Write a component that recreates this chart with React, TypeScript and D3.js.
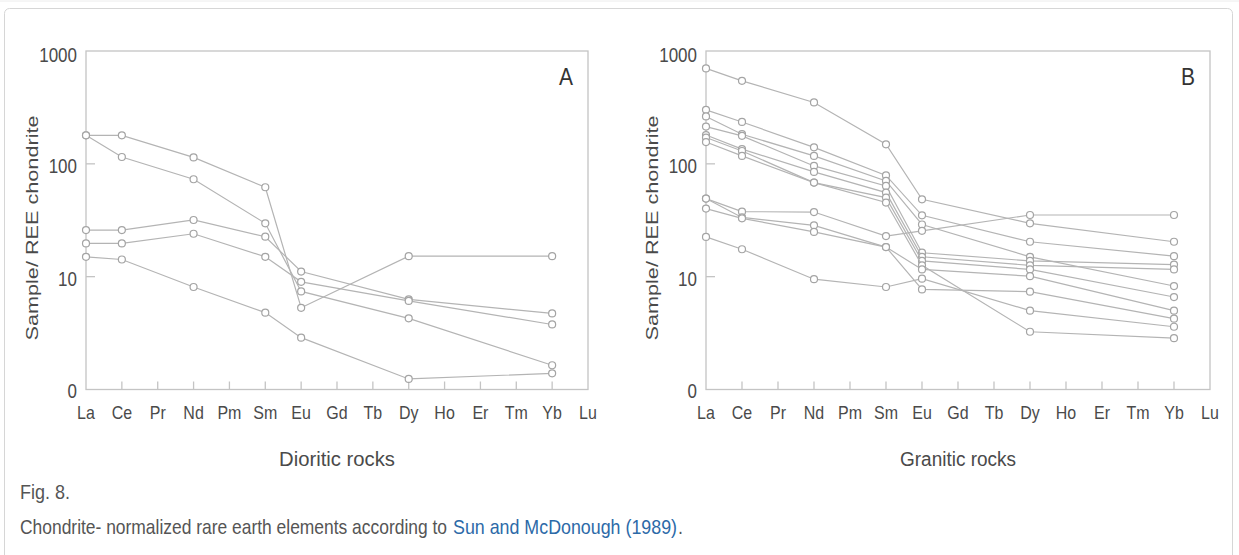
import React from "react";
import * as d3 from "d3";

// ---------- data ----------
const elements = ["La", "Ce", "Pr", "Nd", "Pm", "Sm", "Eu", "Gd", "Tb", "Dy", "Ho", "Er", "Tm", "Yb", "Lu"];
const measuredElements = ["La", "Ce", "Nd", "Sm", "Eu", "Dy", "Yb"];

// Panel A – dioritic rocks (values for La, Ce, Nd, Sm, Eu, Dy, Yb)
const dioriticA1 = [179, 179, 114, 62, 5.3, 15.2, 15.2];
const dioriticA2 = [179, 115, 73, 29.7, 7.4, 4.27, 1.64];
const dioriticA3 = [25.9, 25.9, 31.8, 22.6, 11.1, 6.3, 4.72];
const dioriticA4 = [19.7, 19.7, 24, 15.0, 9.0, 6.1, 3.77];
const dioriticA5 = [15.0, 14.2, 8.1, 4.8, 2.88, 1.24, 1.39];
const dioriticSeries = [dioriticA1, dioriticA2, dioriticA3, dioriticA4, dioriticA5];

// Panel B – granitic rocks
const graniticB1 = [701, 544, 350, 149, 48.5, 29.7, 20.4];
const graniticB2 = [301, 235, 140, 79, 35, 20.4, 15.2];
const graniticB3 = [263, 183, 117.5, 70.5, 29, 15.0, 8.26];
const graniticB4 = [214, 177, 95.8, 63.7, 16.3, 13.8, 12.8];
const graniticB5 = [180, 135, 84.8, 55.6, 15.0, 12.6, 11.6];
const graniticB6 = [171, 130, 68.2, 50.2, 13.8, 11.6, 6.6];
const graniticB7 = [156, 117.6, 68.2, 45.4, 12.6, 3.25, 2.85];
const graniticB8 = [49.2, 37.7, 37.4, 22.9, 25.5, 35.2, 35.2];
const graniticB9 = [49.2, 33.5, 28.5, 18.3, 11.6, 10.1, 5.0];
const graniticB10 = [40.1, 32.9, 24.9, 18.3, 7.7, 7.36, 4.24];
const graniticB11 = [22.5, 17.5, 9.5, 8.1, 9.6, 5.0, 3.6];
const graniticSeries = [
  graniticB1, graniticB2, graniticB3, graniticB4, graniticB5, graniticB6,
  graniticB7, graniticB8, graniticB9, graniticB10, graniticB11,
];

const yTickValues = [1, 10, 100, 1000];
const yTickLabels = ["0", "10", "100", "1000"];
const yAxisTitle = "Sample/ REE chondrite";
const captionFig = "Fig. 8.";
const captionText = "Chondrite- normalized rare earth elements according to";
const captionLink = "Sun and McDonough (1989)";
const captionEnd = ".";

// ---------- styles ----------
const FONT = "'Liberation Sans', Arial, Helvetica, sans-serif";
const TEXT = "#4a4a4a";
const AXIS = "#c4c4c4";
const LINE = "#b4b4b4";
const MARK = "#a4a4a4";
const STRETCH = 1.15;

type PanelProps = {
  left: number;
  right: number;
  top: number;
  bottom: number;
  series: number[][];
  letter: string;
  xTitle: string;
};

function Panel({ left, right, top, bottom, series, letter, xTitle }: PanelProps) {
  const x = d3.scalePoint<string>().domain(elements).range([left, right]);
  const y = d3.scaleLog().domain([1, 1000]).range([bottom, top]);
  const line = d3
    .line<number>()
    .x((_, i) => x(measuredElements[i]) as number)
    .y((v) => y(v));

  return (
    <g>
      {/* frame */}
      <rect x={left} y={top} width={right - left} height={bottom - top} fill="none" stroke={AXIS} strokeWidth={1.3} />
      {/* y ticks */}
      {yTickValues.map((v, i) => (
        <g key={"yt" + i}>
          {v > 1 && v < 1000 && (
            <line x1={left} x2={left + 9} y1={y(v)} y2={y(v)} stroke={AXIS} strokeWidth={1.3} />
          )}
          <text
            transform={`translate(${left - 9},${y(v) + (v === 1000 ? 4 : 2)}) scale(1,${STRETCH})`}
            textAnchor="end"
            dominantBaseline="central"
            fontFamily={FONT}
            fontSize={17}
            fill={TEXT}
          >
            {yTickLabels[i]}
          </text>
        </g>
      ))}
      {/* x ticks */}
      {elements.map((e, i) => (
        <g key={"xt" + e}>
          {i > 0 && i < elements.length - 1 && (
            <line x1={x(e)} x2={x(e)} y1={bottom} y2={bottom - 8} stroke={AXIS} strokeWidth={1.3} />
          )}
          <text
            transform={`translate(${x(e)},${419}) scale(1,${STRETCH})`}
            textAnchor="middle"
            fontFamily={FONT}
            fontSize={16}
            fill={TEXT}
          >
            {e}
          </text>
        </g>
      ))}
      {/* series */}
      {series.map((s, si) => (
        <g key={"s" + si}>
          <path d={line(s) || ""} fill="none" stroke={LINE} strokeWidth={1.2} />
          {s.map((v, i) => (
            <circle
              key={i}
              cx={x(measuredElements[i])}
              cy={y(v)}
              r={3.5}
              fill="#fff"
              stroke={MARK}
              strokeWidth={1.2}
            />
          ))}
        </g>
      ))}
      {/* panel letter */}
      <text
        transform={`translate(${right - 22},${top + 34}) scale(1,${STRETCH})`}
        textAnchor="middle"
        fontFamily={FONT}
        fontSize={21}
        fill="#333"
      >
        {letter}
      </text>
      {/* y title */}
      <text
        transform={`translate(${left - 54},${228}) rotate(-90)`}
        textAnchor="middle"
        dominantBaseline="central"
        fontFamily={FONT}
        fontSize={17}
        fill={TEXT}
        textLength={225}
        lengthAdjust="spacingAndGlyphs"
      >
        {yAxisTitle}
      </text>
      {/* x title */}
      <text
        transform={`translate(${(left + right) / 2},${466}) scale(1,${STRETCH})`}
        textAnchor="middle"
        fontFamily={FONT}
        fontSize={17}
        fill={TEXT}
        textLength={116}
        lengthAdjust="spacingAndGlyphs"
      >
        {xTitle}
      </text>
    </g>
  );
}

export default function App() {
  return (
    <svg
      width={1239}
      height={555}
      viewBox="0 0 1239 555"
      style={{ position: "absolute", left: 0, top: 0, background: "#fff" }}
    >
      <line x1={0} x2={1239} y1={1} y2={1} stroke="#ececec" strokeWidth={1} />
      <rect x={4.5} y={8.5} width={1228} height={620} rx={5} fill="#fff" stroke="#d6d6d6" strokeWidth={1} />
      <Panel left={86} right={588} top={51} bottom={389.5} series={dioriticSeries} letter="A" xTitle="Dioritic rocks" />
      <Panel left={706} right={1210} top={51} bottom={389.5} series={graniticSeries} letter="B" xTitle="Granitic rocks" />
      <text
        transform={`translate(20,499) scale(1,${STRETCH})`}
        fontFamily={FONT}
        fontSize={18}
        fill="#555"
      >
        {captionFig}
      </text>
      <text
        transform={`translate(20,534) scale(1,${STRETCH})`}
        fontFamily={FONT}
        fontSize={18}
        fill="#555"
        textLength={427}
        lengthAdjust="spacingAndGlyphs"
      >
        {captionText}
      </text>
      <text
        transform={`translate(453,534) scale(1,${STRETCH})`}
        fontFamily={FONT}
        fontSize={18}
        fill="#2c6aa8"
        textLength={224}
        lengthAdjust="spacingAndGlyphs"
      >
        {captionLink}
      </text>
      <text
        transform={`translate(678,534) scale(1,${STRETCH})`}
        fontFamily={FONT}
        fontSize={18}
        fill="#555"
      >
        {captionEnd}
      </text>
    </svg>
  );
}
